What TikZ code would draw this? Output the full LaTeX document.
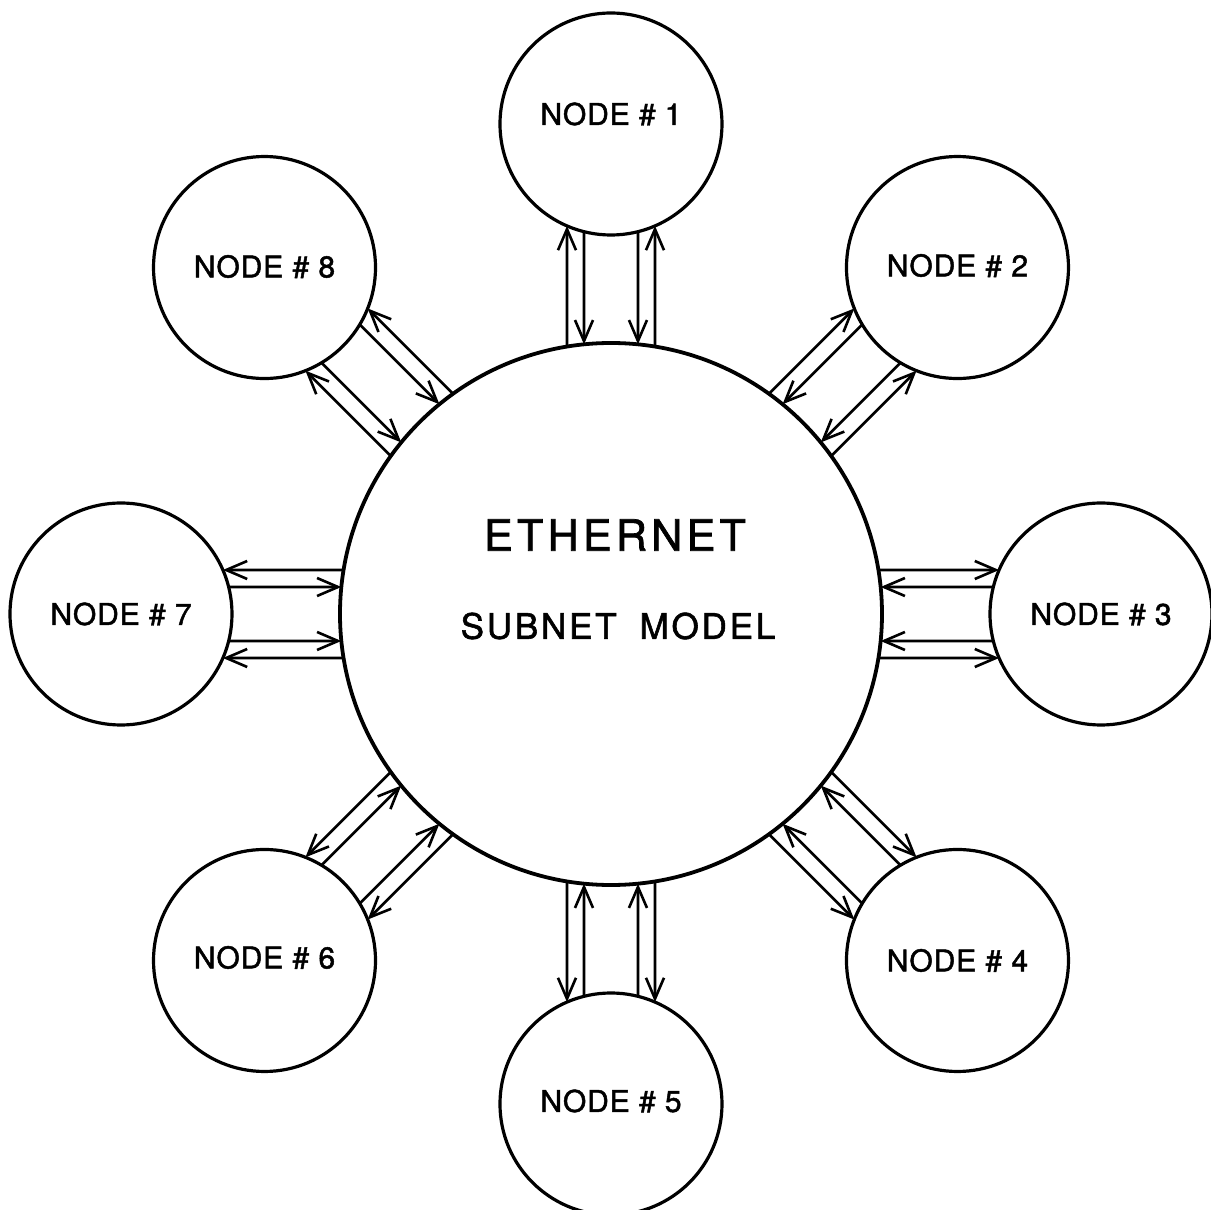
\documentclass[tikz,border=0pt]{standalone}
\usepackage{fontspec}
\setmainfont{TeX Gyre Heros}
\usetikzlibrary{arrows.meta,calc}
\begin{document}
\begin{tikzpicture}[x=1pt,y=1pt,
  hub/.style={circle,draw,line width=3.8pt,minimum size=542pt,inner sep=0pt,outer sep=0pt},
  sat/.style={circle,draw,line width=3.2pt,minimum size=222pt,inner sep=0pt,outer sep=0pt},
  lbl/.style={font=\fontsize{30}{36}\selectfont\addfontfeature{LetterSpace=3,FakeBold=1.6},inner sep=0pt},
  link/.style={line width=2.6pt},
  tonode/.style={link,-{Straight Barb[length=21pt,width=18pt,line width=2.6pt]}},
  toeth/.style={link,{Straight Barb[length=21pt,width=18pt,line width=2.6pt]}-},
]
\useasboundingbox (-611,-596) rectangle (600,614);
\clip (-611,-596) rectangle (600,614);

% the shared subnet
\node[hub] (eth) at (0,0) {};
\node[font=\fontsize{43}{50}\selectfont\addfontfeature{LetterSpace=10,FakeBold=1.6},inner sep=0pt] (title) at (4,79) {ETHERNET};
\node[font=\fontsize{35}{42}\selectfont\addfontfeature{LetterSpace=8,FakeBold=1.6},inner sep=0pt] (sub) at (7,-12) {SUBNET\hspace{23pt}MODEL};

% eight stations around the subnet, each with two links in and two out
\foreach \k/\a/\dy in {1/90/10,2/45/2,3/0/0,4/-45/0,5/-90/3,6/-135/3,7/180/0,8/135/1} {
  \node[sat] (n\k) at (\a:490) {};
  \node[lbl] (t\k) at ($(n\k.center)+(0,\dy)$) {NODE \# \k};
  \foreach \d in {44,-44} {
    \pgfmathsetmacro\am{\a+asin(\d/271)}
    \pgfmathsetmacro\an{\a+180-asin(\d/111)}
    \draw[tonode] ($(eth.center)+(\am:271)$) -- ($(n\k.center)+(\an:111)$);
  }
  \foreach \d in {27,-27} {
    \pgfmathsetmacro\am{\a+asin(\d/271)}
    \pgfmathsetmacro\an{\a+180-asin(\d/111)}
    \draw[toeth] ($(eth.center)+(\am:271)$) -- ($(n\k.center)+(\an:111)$);
  }
}
\end{tikzpicture}
\end{document}
